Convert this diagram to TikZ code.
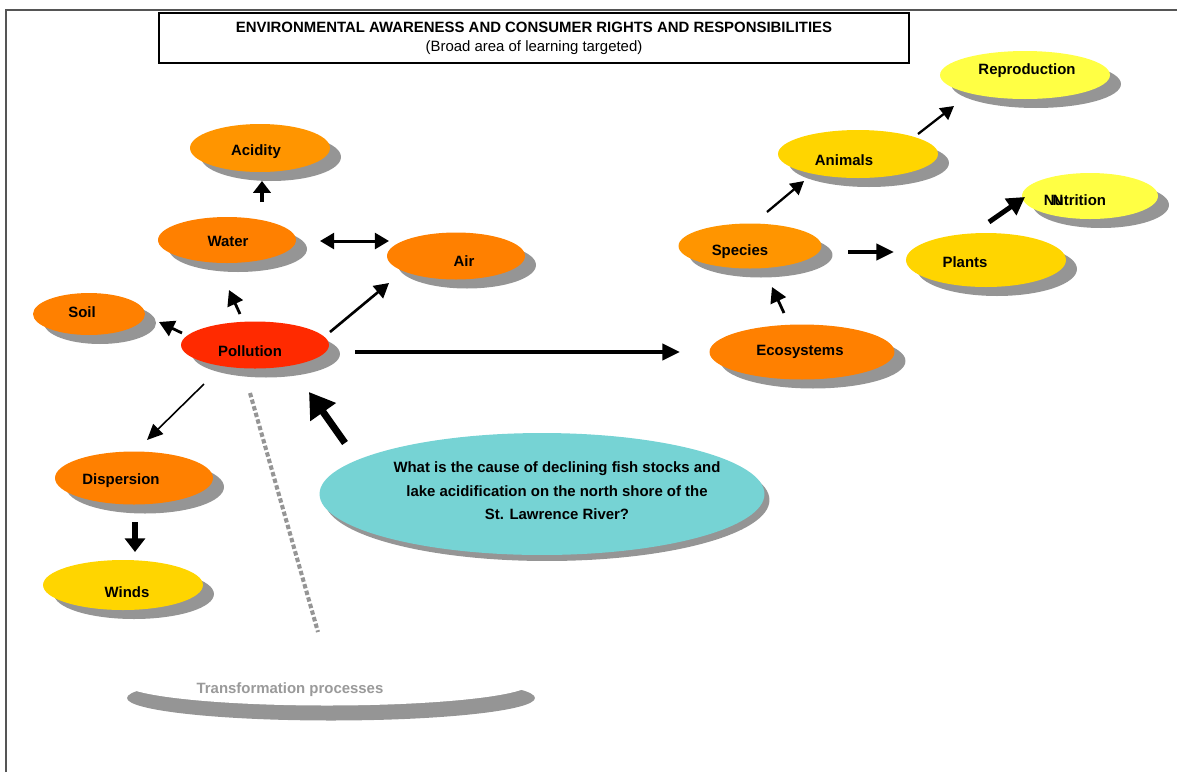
\documentclass[tikz,border=0pt]{standalone}
\usepackage{fontspec}
\setmainfont{Liberation Sans}
\usetikzlibrary{shapes.geometric,arrows.meta,shadows}
\definecolor{orA}{HTML}{FF8000}
\definecolor{orB}{HTML}{FF9500}
\definecolor{redP}{HTML}{FF2A00}
\definecolor{goldY}{HTML}{FFD500}
\definecolor{lemon}{HTML}{FFFF44}
\definecolor{tealQ}{HTML}{76D3D4}
\definecolor{shgray}{HTML}{959595}
\definecolor{framegray}{HTML}{555555}
\definecolor{txgray}{HTML}{9A9A9A}
\begin{document}
\begin{tikzpicture}[x=0.02cm,y=-0.02cm,
  ell/.style={ellipse, draw=none, fill=#1, inner sep=0pt,
    drop shadow={shadow xshift=0.22cm, shadow yshift=-0.18cm, fill=shgray, opacity=1}},
  lbl/.style={font=\bfseries\fontsize{8.5}{10}\selectfont, inner sep=0pt},
  conn/.style={line width=#1, -{Triangle[width=4*#1+3pt,length=3.5*#1+3pt]}},
  blockarrow/.style={line width=#1, -{Triangle[width=3.8*#1,length=2.6*#1]}}
]
\useasboundingbox (0,0) rectangle (1177,772);
% page frame
\draw[framegray, line width=0.9pt] (6,772) -- (6,10) -- (1177,10);

% title
\node[draw, line width=1.1pt, minimum width=15cm, minimum height=1cm, inner sep=0pt] (title) at (534,38) {};
\node[lbl] (titleA) at (534,27) {ENVIRONMENTAL AWARENESS AND CONSUMER RIGHTS AND RESPONSIBILITIES};
\node[font=\fontsize{8.5}{10}\selectfont, inner sep=0pt] (titleB) at (534,48) {(Broad area of learning targeted)};

% ellipses
\node[ell=orB, minimum width=2.8cm, minimum height=0.96cm] (acidity) at (260,148) {};
\node[lbl] (acidityT) at (256,152) {Acidity};
\node[ell=orA, minimum width=2.76cm, minimum height=0.92cm] (water) at (227,240) {};
\node[lbl] (waterT) at (228,241) {Water};
\node[ell=orA, minimum width=2.76cm, minimum height=0.94cm] (air) at (456,256) {};
\node[lbl] (airT) at (464,261) {Air};
\node[ell=orA, minimum width=2.24cm, minimum height=0.84cm] (soil) at (89,314) {};
\node[lbl] (soilT) at (82,312) {Soil};
\node[ell=redP, minimum width=2.96cm, minimum height=0.94cm] (pollution) at (255,345) {};
\node[lbl] (pollutionT) at (250,351) {Pollution};
\node[ell=orA, minimum width=3.16cm, minimum height=1.06cm] (dispersion) at (134,478) {};
\node[lbl] (dispersionT) at (121,481) {Dispersion};
\node[ell=goldY, minimum width=3.2cm, minimum height=1.0cm] (winds) at (123,585) {};
\node[lbl] (windsT) at (127,592) {Winds};

% transformation processes
\node[ellipse, fill=white, inner sep=0pt, minimum width=8.16cm, minimum height=0.9cm,
  drop shadow={shadow xshift=0.08cm, shadow yshift=-0.3cm, fill=shgray, opacity=1}] (transf) at (327,683) {};
\node[lbl, text=txgray] (transfT) at (290,690) {Transformation processes};

% question
\node[ellipse, fill=tealQ, inner sep=0pt, minimum width=8.9cm, minimum height=2.44cm,
  drop shadow={shadow xshift=0.1cm, shadow yshift=-0.12cm, fill=shgray, opacity=1}] (question) at (542,494) {};
\node[lbl, align=center, font=\bfseries\fontsize{8.5}{13.3}\selectfont] (questionT) at (557,491)
  {What is the cause of declining fish stocks and\\lake acidification on the north shore of the\\St. Lawrence River?};

% right side
\node[ell=orA, minimum width=3.7cm, minimum height=1.1cm] (eco) at (802,352) {};
\node[lbl] (ecoT) at (800,352) {Ecosystems};
\node[ell=orB, minimum width=2.86cm, minimum height=0.9cm] (species) at (750,246) {};
\node[lbl] (speciesT) at (740,252) {Species};
\node[ell=goldY, minimum width=3.2cm, minimum height=0.96cm] (animals) at (858,154) {};
\node[lbl] (animalsT) at (844,160) {Animals};
\node[ell=goldY, minimum width=3.2cm, minimum height=1.08cm] (plants) at (986,260) {};
\node[lbl] (plantsT) at (965,262) {Plants};
\node[ell=lemon, minimum width=3.4cm, minimum height=0.96cm] (repro) at (1025,75) {};
\node[lbl] (reproT) at (1027,71) {Reproduction};
\node[ell=lemon, minimum width=2.72cm, minimum height=0.92cm] (nutri) at (1090,196) {};
\node[lbl] (nutriT) at (1075,200) {Nutrition};
\node[lbl] (nutriN) at (1058,200) {N};

% connector end points
\coordinate (wa1) at (262,202); \coordinate (wa2) at (262,181);
\coordinate (wair1) at (320,241); \coordinate (wair2) at (389,241);
\coordinate (pw1) at (240,314); \coordinate (pw2) at (229,290);
\coordinate (ps1) at (182,333); \coordinate (ps2) at (159,322);
\coordinate (pa1) at (330,332); \coordinate (pa2) at (389,283);
\coordinate (pe1) at (355,352); \coordinate (pe2) at (680,352);
\coordinate (pd1) at (204,384); \coordinate (pd2) at (147,440);
\coordinate (dw1) at (135,522); \coordinate (dw2) at (135,552);
\coordinate (qp1) at (345,443); \coordinate (qp2) at (309,392);
\coordinate (dot1) at (250,393); \coordinate (dot2) at (318,632);
\coordinate (es1) at (784,313); \coordinate (es2) at (772,287);
\coordinate (sa1) at (767,212); \coordinate (sa2) at (804,181);
\coordinate (sp1) at (848,252); \coordinate (sp2) at (894,252);
\coordinate (ar1) at (918,134); \coordinate (ar2) at (954,106);
\coordinate (pn1) at (989,222); \coordinate (pn2) at (1025,197);

% connectors
\draw[blockarrow=2.6pt] (wa1) -- (wa2);
\draw[line width=1.7pt, {Triangle[width=9pt,length=8pt]}-{Triangle[width=9pt,length=8pt]}] (wair1) -- (wair2);
\draw[conn=1.6pt] (pw1) -- (pw2);
\draw[conn=1.6pt] (ps1) -- (ps2);
\draw[conn=1.5pt] (pa1) -- (pa2);
\draw[line width=2.3pt, -{Triangle[width=9pt,length=10pt]}] (pe1) -- (pe2);
\draw[line width=0.9pt, -{Triangle[width=8pt,length=9pt]}] (pd1) -- (pd2);
\draw[blockarrow=3pt] (dw1) -- (dw2);
\draw[line width=4pt, -{Triangle[width=17pt,length=14pt]}] (qp1) -- (qp2);
\draw[shgray, line width=2.3pt, dash pattern=on 2.5pt off 1.4pt] (dot1) -- (dot2);
\draw[conn=1.6pt] (es1) -- (es2);
\draw[conn=1.3pt] (sa1) -- (sa2);
\draw[line width=2.6pt, -{Triangle[width=9pt,length=10pt]}] (sp1) -- (sp2);
\draw[conn=1.3pt] (ar1) -- (ar2);
\draw[line width=2.8pt, -{Triangle[width=11pt,length=10pt]}] (pn1) -- (pn2);
\end{tikzpicture}
\end{document}
